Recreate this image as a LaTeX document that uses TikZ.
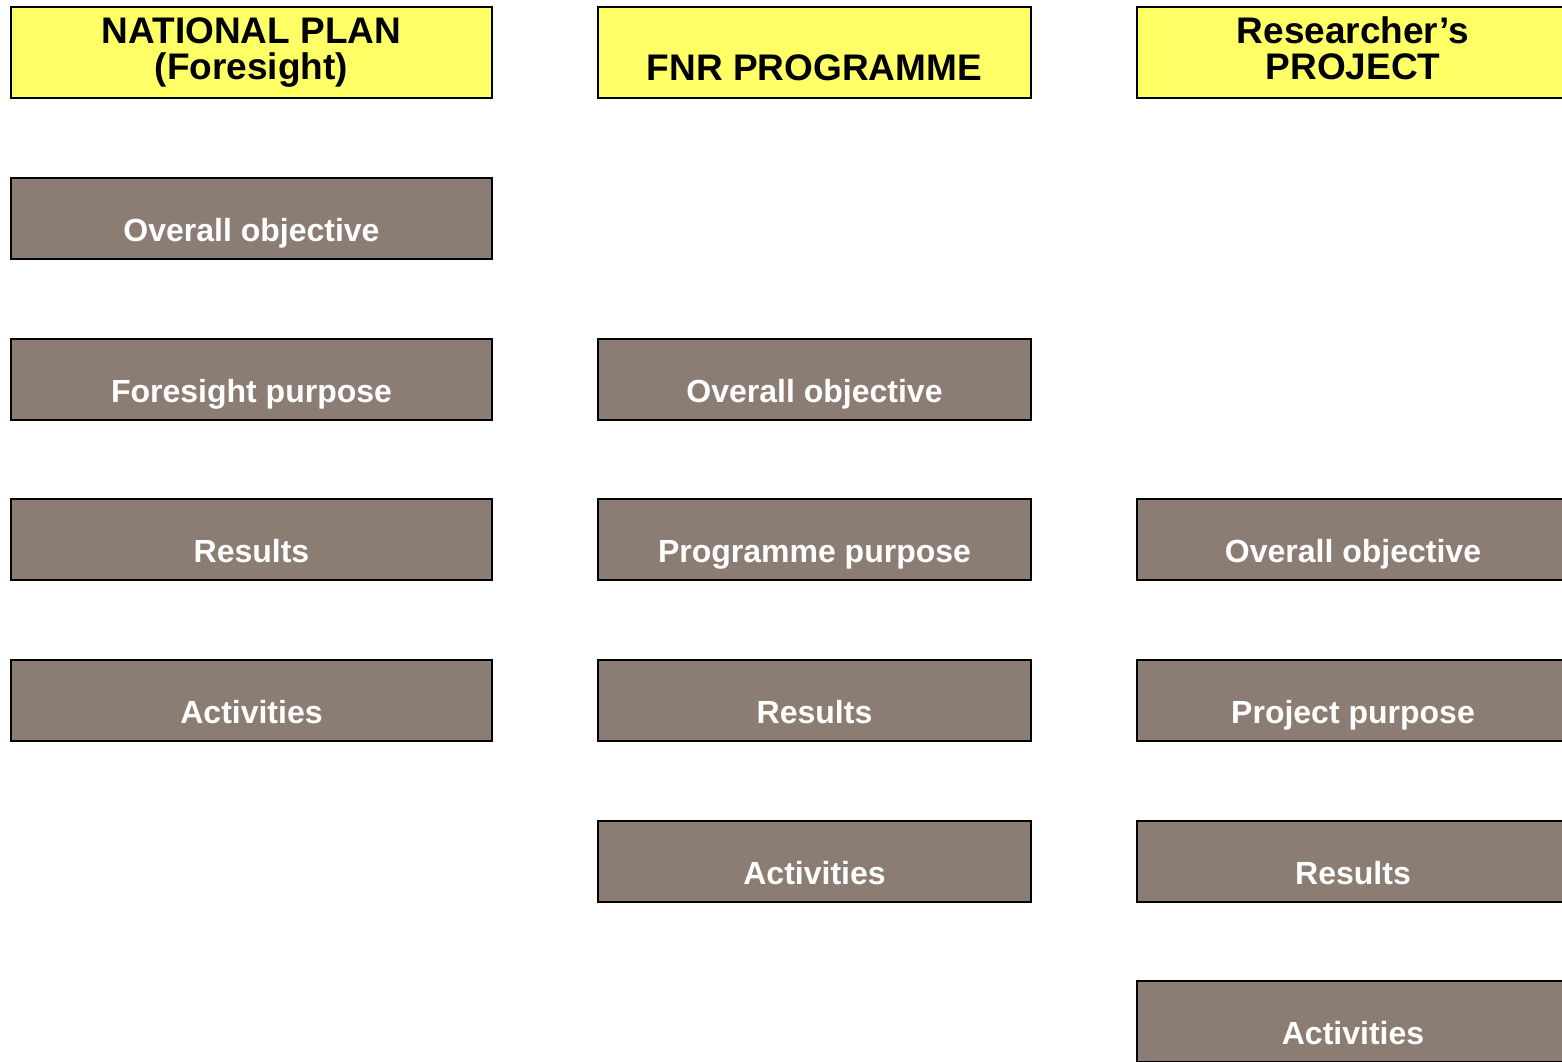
\documentclass[tikz,border=0pt]{standalone}
\usepackage{fontspec}
\setmainfont{Liberation Sans}
\usetikzlibrary{calc}
\definecolor{hdryellow}{RGB}{255,255,102}
\definecolor{boxgray}{RGB}{139,125,115}
\tikzset{
  hdrbox/.style={draw=black, line width=2pt, fill=hdryellow, rectangle, inner sep=0pt, minimum height=91pt},
  gbox/.style={draw=black, line width=2pt, fill=boxgray, rectangle, inner sep=0pt, minimum height=81pt},
  hdrtext/.style={font=\fontsize{37}{36}\selectfont\bfseries, align=center, anchor=base, inner sep=0pt, text=black},
  gtext/.style={font=\fontsize{32}{34}\selectfont\bfseries, anchor=base, inner sep=0pt, text=white},
}
\begin{document}
\begin{tikzpicture}[x=1pt,y=-1pt]
\useasboundingbox (0,0) rectangle (1562,1061);
\clip (0,0) rectangle (1562,1061);
% headers
\node[hdrbox, minimum width=481pt] (h1) at (251.5,52.5) {};
\node[hdrbox, minimum width=433pt] (h2) at (814.5,52.5) {};
\node[hdrbox, minimum width=432pt] (h3) at (1353,52.5) {};
\node[hdrtext] (h1t) at ($(h1.north)+(0,73)$) {NATIONAL PLAN\\(Foresight)};
\node[hdrtext] (h2t) at ($(h2.north)+(0,74)$) {FNR PROGRAMME};
\node[hdrtext] (h3t) at ($(h3.north)+(0,73)$) {Researcher’s\\PROJECT};
% column 1
\node[gbox, minimum width=481pt] (a1) at (251.5,218.5) {};
\node[gbox, minimum width=481pt] (a2) at (251.5,379.5) {};
\node[gbox, minimum width=481pt] (a3) at (251.5,539.5) {};
\node[gbox, minimum width=481pt] (a4) at (251.5,700.5) {};
\node[gtext] (a1t) at ($(a1.north)+(0,64)$) {Overall objective};
\node[gtext] (a2t) at ($(a2.north)+(0,64)$) {Foresight purpose};
\node[gtext] (a3t) at ($(a3.north)+(0,64)$) {Results};
\node[gtext] (a4t) at ($(a4.north)+(0,64)$) {Activities};
% column 2
\node[gbox, minimum width=433pt] (b1) at (814.5,379.5) {};
\node[gbox, minimum width=433pt] (b2) at (814.5,539.5) {};
\node[gbox, minimum width=433pt] (b3) at (814.5,700.5) {};
\node[gbox, minimum width=433pt] (b4) at (814.5,861.5) {};
\node[gtext] (b1t) at ($(b1.north)+(0,64)$) {Overall objective};
\node[gtext] (b2t) at ($(b2.north)+(0,64)$) {Programme purpose};
\node[gtext] (b3t) at ($(b3.north)+(0,64)$) {Results};
\node[gtext] (b4t) at ($(b4.north)+(0,64)$) {Activities};
% column 3
\node[gbox, minimum width=432pt] (c1) at (1353,539.5) {};
\node[gbox, minimum width=432pt] (c2) at (1353,700.5) {};
\node[gbox, minimum width=432pt] (c3) at (1353,861.5) {};
\node[gbox, minimum width=432pt] (c4) at (1353,1021.5) {};
\node[gtext] (c1t) at ($(c1.north)+(0,64)$) {Overall objective};
\node[gtext] (c2t) at ($(c2.north)+(0,64)$) {Project purpose};
\node[gtext] (c3t) at ($(c3.north)+(0,64)$) {Results};
\node[gtext] (c4t) at ($(c4.north)+(0,64)$) {Activities};
\end{tikzpicture}
\end{document}
